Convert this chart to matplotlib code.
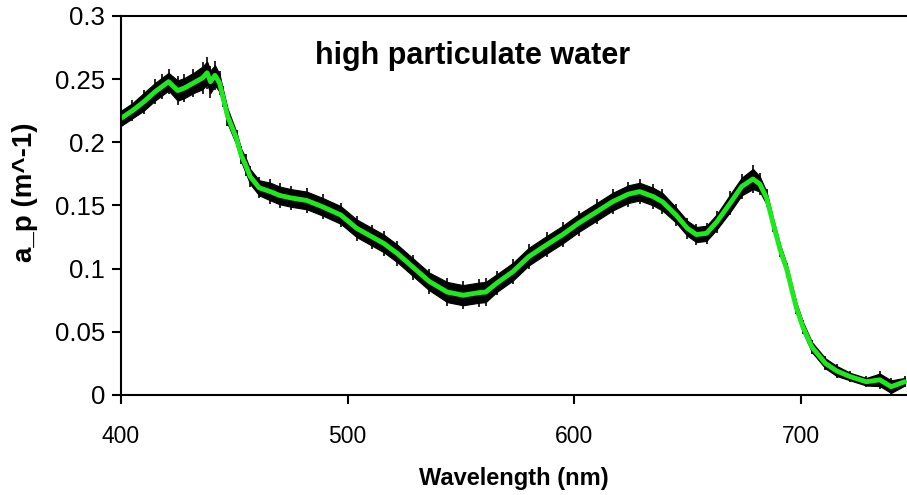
import matplotlib.pyplot as plt
import numpy as np

plt.rcParams['font.family'] = ['Liberation Sans', 'DejaVu Sans']

# smoothed a_p spectrum (green)
wavelength = [400, 405, 410, 415, 418, 421, 425, 428, 432, 436, 438, 439.5,
              441.5, 443.5, 445, 447, 451, 453, 455, 457, 461, 466, 470, 475,
              482, 489, 497, 504, 511, 516, 522, 529, 536, 544, 551, 558, 561,
              566, 573, 580, 588, 595, 602, 610, 617, 624, 629, 635, 639, 645,
              650, 654, 658.5, 663, 669, 674, 679, 682, 685, 688, 691, 694,
              698, 701, 705, 711, 716, 722, 729, 735, 740, 746]
a_p = [0.219, 0.225, 0.232, 0.240, 0.244, 0.248, 0.241, 0.243, 0.247, 0.251,
       0.255, 0.248, 0.253, 0.247, 0.236, 0.221, 0.203, 0.190, 0.182, 0.173,
       0.164, 0.161, 0.158, 0.156, 0.154, 0.149, 0.1425, 0.132, 0.125, 0.120,
       0.112, 0.101, 0.090, 0.0815, 0.079, 0.081, 0.0815, 0.0887, 0.0976,
       0.1095, 0.119, 0.127, 0.136, 0.145, 0.153, 0.159, 0.161, 0.157, 0.153,
       0.1425, 0.132, 0.127, 0.128, 0.137, 0.152, 0.165, 0.171, 0.167, 0.156,
       0.135, 0.115, 0.099, 0.070, 0.054, 0.038, 0.025, 0.019, 0.0145, 0.0105,
       0.012, 0.0066, 0.0105]
# half width of the noisy raw spectrum (black) around the smoothed one
noise = [0.006, 0.006, 0.007, 0.007, 0.007, 0.007, 0.008, 0.008, 0.008, 0.009,
         0.009, 0.009, 0.008, 0.007, 0.006, 0.006, 0.005, 0.005, 0.006, 0.006,
         0.006, 0.007, 0.007, 0.007, 0.007, 0.007, 0.007, 0.007, 0.007, 0.007,
         0.007, 0.007, 0.007, 0.008, 0.008, 0.008, 0.008, 0.007, 0.007, 0.007,
         0.007, 0.007, 0.007, 0.007, 0.007, 0.007, 0.007, 0.007, 0.007, 0.006,
         0.006, 0.006, 0.006, 0.006, 0.007, 0.007, 0.008, 0.006, 0.005, 0.004,
         0.004, 0.004, 0.004, 0.004, 0.004, 0.004, 0.004, 0.003, 0.003, 0.005,
         0.005, 0.003]

wl = np.array(wavelength)
ap = np.array(a_p)
nz = np.array(noise)

fig = plt.figure(figsize=(9.07, 4.95), dpi=100)
ax = fig.add_axes([121 / 907, 1 - 395 / 495, 1 - 121 / 907, 379 / 495])

# noisy raw spectrum as a band, spikes as short vertical bars
ax.fill_between(wl, ap - nz, ap + nz, color='black', linewidth=0.8,
                edgecolor='black')
ax.vlines(wl, ap - 1.4 * nz, ap + 1.4 * nz, color='black', linewidth=1.2)
ax.plot(wl, ap, color='#1ee81e', linewidth=3.5, solid_capstyle='round')

ax.set_xlim(400, 747)
ax.set_ylim(0, 0.3)
ax.set_xticks([400, 500, 600, 700])
ax.set_yticks([0, 0.05, 0.1, 0.15, 0.2, 0.25, 0.3])
ax.set_yticklabels(['0', '0.05', '0.1', '0.15', '0.2', '0.25', '0.3'])
ax.tick_params(direction='out', length=6.5, width=1.5)
ax.tick_params(axis='y', pad=5, labelsize=18.5)
ax.tick_params(axis='x', pad=15, labelsize=16.5)
for side in ['left', 'bottom', 'top']:
    ax.spines[side].set_linewidth(1.5)
ax.spines['right'].set_visible(False)

ax.set_xlabel('Wavelength (nm)', fontsize=17, fontweight='bold')
ax.set_ylabel('a_p (m^-1)', fontsize=20, fontweight='bold')
ax.xaxis.set_label_coords(0.5, -0.19)
ax.yaxis.set_label_coords(-0.106, 0.536)
ax.text(0.447, 0.895, 'high particulate water', fontsize=22,
        fontweight='bold', ha='center', va='center', transform=ax.transAxes)

fig.savefig('out.png', dpi=100)
